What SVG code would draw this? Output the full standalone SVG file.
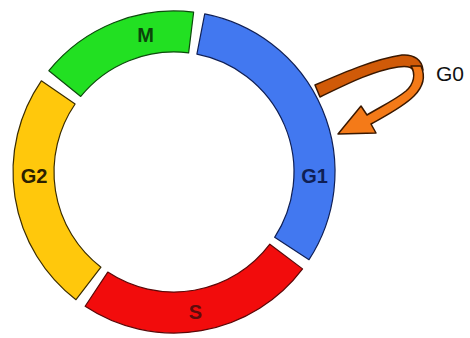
<svg xmlns="http://www.w3.org/2000/svg" width="470" height="338" viewBox="0 0 470 338">
<style>
.seg{stroke-width:1.2;stroke-linejoin:round}
.lbl{font-family:"Liberation Sans",Arial,sans-serif;font-size:20px;font-weight:bold;text-anchor:middle}
.arr{stroke:#3a1800;stroke-width:1.5;stroke-linejoin:round}
</style>
<rect width="470" height="338" fill="#ffffff"/>
<g id="M">
<path class="seg" d="M 48.88,70.68 A 161 161 0 0 1 193.62,12.20 L 188.62,52.89 A 120 120 0 0 0 80.74,96.48 Z" fill="#22e022" stroke="#0d4a0d"/>
<text class="lbl" x="145.5" y="42" fill="#0b440b">M</text>
</g>
<g id="G1">
<path class="seg" d="M 204.72,13.96 A 161 161 0 0 1 309.03,259.69 L 274.64,237.36 A 120 120 0 0 0 196.90,54.20 Z" fill="#4278f0" stroke="#0f1f55"/>
<text class="lbl" x="314.5" y="183" fill="#0f1f55">G1</text>
</g>
<g id="S">
<path class="seg" d="M 302.58,268.89 A 161 161 0 0 1 85.14,306.26 L 107.77,272.07 A 120 120 0 0 0 269.84,244.22 Z" fill="#f20c0c" stroke="#5a0808"/>
<text class="lbl" x="195.5" y="319" fill="#5e0c0c">S</text>
</g>
<g id="G2">
<path class="seg" d="M 75.99,299.73 A 161 161 0 0 1 41.32,80.81 L 75.10,104.03 A 120 120 0 0 0 100.95,267.20 Z" fill="#ffc80c" stroke="#3a2c00"/>
<text class="lbl" x="34" y="183" fill="#2a2000">G2</text>
</g>
<g id="connectors">
<path class="arr" d="M 315,85 C 345,72 375,59 402,55 C 414,54 422,60 423,70 L 413,70 C 411,66 405,66 398,67 C 372,71 345,85 320,97 Z" fill="#d05a08"/>
<path class="arr" d="M 411,66 C 416,74 414,84 406,91 C 395,100 380,107 367,115 L 361,106 L 338,134 L 376,133 L 371,124 C 387,115 403,107 414,96 C 424,86 425,75 421,66 Z" fill="#f47a18"/>
</g>
<g id="G0">
<text x="436" y="81" font-family="'Liberation Sans',Arial,sans-serif" font-size="21" fill="#111111">G0</text>
</g>
</svg>
